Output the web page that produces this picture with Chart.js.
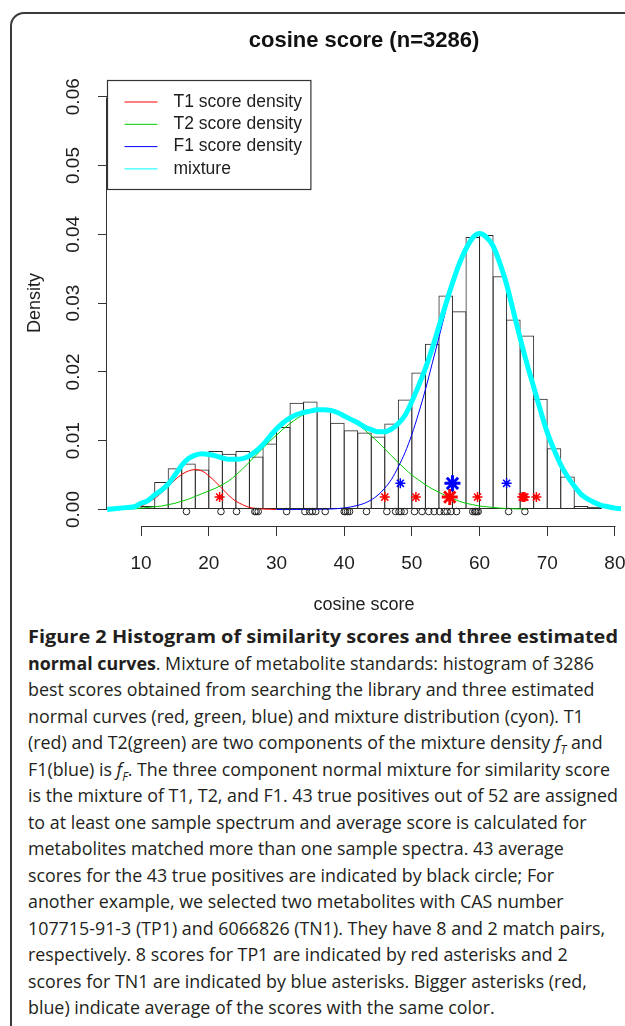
<!DOCTYPE html>
<html>
<head>
<meta charset="utf-8">
<script src="https://cdn.jsdelivr.net/npm/chart.js@4.4.1/dist/chart.umd.min.js"></script>
<style>
  html, body { margin: 0; padding: 0; background: #fff; }
  body { width: 625px; height: 1026px; position: relative; overflow: hidden; }
  #frame { position: absolute; left: 10px; top: 12px; width: 700px; height: 1100px;
           border: 2px solid #3a3a3a; border-radius: 14px; box-sizing: border-box; }
  #plot { position: absolute; left: 0; top: 0; }
  #caption { position: absolute; left: 28px; top: 623px; font-family: 'Open Sans', sans-serif;
             font-size: 18px; line-height: 26.5px; color: #231f20; }
  #caption div { white-space: nowrap; width: max-content; transform-origin: 0 50%; }
  #caption sub { font-size: 0.65em; line-height: 0; }
</style>
</head>
<body>
<div id="frame"></div>
<canvas id="plot" width="632" height="620"></canvas>
<div id="caption">
  <div class="head"><b>Figure 2 Histogram of similarity scores and three estimated</b></div>
  <div><b>normal curves</b>. Mixture of metabolite standards: histogram of 3286</div>
  <div>best scores obtained from searching the library and three estimated</div>
  <div>normal curves (red, green, blue) and mixture distribution (cyon). T1</div>
  <div>(red) and T2(green) are two components of the mixture density <i>f<sub>T</sub></i> and</div>
  <div>F1(blue) is <i>f<sub>F</sub></i>. The three component normal mixture for similarity score</div>
  <div>is the mixture of T1, T2, and F1. 43 true positives out of 52 are assigned</div>
  <div>to at least one sample spectrum and average score is calculated for</div>
  <div>metabolites matched more than one sample spectra. 43 average</div>
  <div>scores for the 43 true positives are indicated by black circle; For</div>
  <div>another example, we selected two metabolites with CAS number</div>
  <div>107715-91-3 (TP1) and 6066826 (TN1). They have 8 and 2 match pairs,</div>
  <div>respectively. 8 scores for TP1 are indicated by red asterisks and 2</div>
  <div>scores for TN1 are indicated by blue asterisks. Bigger asterisks (red,</div>
  <div>blue) indicate average of the scores with the same color.</div>
</div>
<script>
// ---- histogram (bins of width 2) ----
const binWidth = 2;
const binStarts = [8, 10, 12, 14, 16, 18, 20, 22, 24, 26, 28, 30, 32, 34, 36, 38, 40, 42,
                   44, 46, 48, 50, 52, 54, 56, 58, 60, 62, 64, 66, 68, 70, 72, 74, 76];
const binDensity = [0.0003, 0.0005, 0.0040, 0.0060, 0.0067, 0.0058, 0.0085, 0.0081, 0.0085,
                    0.0077, 0.0096, 0.0120, 0.0155, 0.0157, 0.0145, 0.0126, 0.0115, 0.0112,
                    0.0106, 0.0125, 0.0160, 0.0199, 0.0241, 0.0311, 0.0288, 0.0396, 0.0399,
                    0.0339, 0.0276, 0.0253, 0.0161, 0.0089, 0.0048, 0.0005, 0.0004];

// ---- fitted densities, read at every score unit (null = not drawn) ----
const scoreGrid = [5, 6, 7, 8, 9, 10, 11, 12, 13, 14, 15, 16, 17, 18, 19, 20, 21, 22, 23, 24,
                   25, 26, 27, 28, 29, 30, 31, 32, 33, 34, 35, 36, 37, 38, 39, 40, 41, 42, 43, 44,
                   45, 46, 47, 48, 49, 50, 51, 52, 53, 54, 55, 56, 57, 58, 59, 60, 61, 62, 63, 64,
                   65, 66, 67, 68, 69, 70, 71, 72, 73, 74, 75, 76, 77, 78, 79, 80, 81, 82];
const t1Density = [null, null, null, 0.0001, 0.0003, 0.0005, 0.0010, 0.0016, 0.0024, 0.0033,
                   0.0043, 0.0051, 0.0056, 0.0058, 0.0056, 0.0049, 0.0040, 0.0030, 0.0020, 0.0012,
                   0.0007, 0.0003, 0.00015, 0.00007, 0.00003, 0, null, null, null, null,
                   null, null, null, null, null, null, null, null, null, null,
                   null, null, null, null, null, null, null, null, null, null,
                   null, null, null, null, null, null, null, null, null, null,
                   null, null, null, null, null, null, null, null, null, null,
                   null, null, null, null, null, null, null, null];
const t2Density = [null, null, null, 0.0001, 0.0001, 0.0002, 0.0003, 0.0004, 0.0005, 0.0007,
                   0.0009, 0.0012, 0.0015, 0.0019, 0.0023, 0.0027, 0.0031, 0.0036, 0.0042, 0.0050,
                   0.0059, 0.0069, 0.0079, 0.0089, 0.0099, 0.0108, 0.0117, 0.0125, 0.0132, 0.0138,
                   0.0142, 0.0145, 0.0146, 0.0145, 0.0142, 0.0137, 0.0131, 0.0124, 0.0116, 0.0107,
                   0.0098, 0.0088, 0.0078, 0.0068, 0.0059, 0.0050, 0.0043, 0.0036, 0.0030, 0.0025,
                   0.0020, 0.0016, 0.0012, 0.0009, 0.0007, 0.0005, 0.0004, 0.0003, 0.0002, 0.00015,
                   0.0001, 0.00007, 0.00005, null, null, null, null, null, null, null,
                   null, null, null, null, null, null, null, null];
const f1Density = [null, null, null, null, null, null, null, null, null, null,
                   null, null, null, null, null, null, null, null, null, null,
                   null, null, null, null, null, 0, 0, 0, 0, 0,
                   0.00001, 0.00002, 0.00004, 0.00007, 0.00013, 0.00022, 0.00037, 0.0006, 0.0009, 0.0014,
                   0.0021, 0.0031, 0.0044, 0.0062, 0.0083, 0.0109, 0.0140, 0.0174, 0.0212, 0.0250,
                   0.0289, 0.0325, 0.0356, 0.0380, 0.0395, 0.0400, 0.0395, 0.0380, 0.0356, 0.0325,
                   0.0289, 0.0250, 0.0212, 0.0176, 0.0142, 0.0111, 0.0085, 0.0064, 0.0046, 0.0033,
                   0.0022, 0.0015, 0.0010, 0.0006, 0.0004, 0.0002, 0.0001, 0.00005];
const mixDensity = [0, 0.0001, 0.0002, 0.0003, 0.0004, 0.0009, 0.0013, 0.0021, 0.0028, 0.0037,
                    0.0050, 0.0064, 0.0074, 0.0079, 0.0081, 0.0080, 0.0078, 0.0075, 0.0073, 0.0073,
                    0.0074, 0.0078, 0.0085, 0.0094, 0.0106, 0.0117, 0.0126, 0.0133, 0.0138, 0.0141,
                    0.0143, 0.0145, 0.0145, 0.0144, 0.0141, 0.0136, 0.0131, 0.0126, 0.0120, 0.0116,
                    0.0113, 0.0113, 0.0117, 0.0125, 0.0137, 0.0157, 0.0180, 0.0205, 0.0234, 0.0266,
                    0.0298, 0.0329, 0.0357, 0.0379, 0.0395, 0.0401, 0.0396, 0.0383, 0.0358, 0.0327,
                    0.0288, 0.0249, 0.0212, 0.0178, 0.0144, 0.0112, 0.0087, 0.0065, 0.0048, 0.0034,
                    0.0022, 0.0015, 0.0010, 0.0006, 0.0004, 0.0002, 0.0001, null];

// ---- marks along the bottom ----
const tpAverageScores = [16.7, 21.8, 24.1, 26.8, 27.0, 27.3, 31.5, 34.2, 34.9, 35.3, 35.8, 37.2,
                         40.0, 40.2, 40.5, 40.8, 43.3, 46.3, 47.6, 48.1, 48.4, 48.9, 50.4, 51.5,
                         52.5, 53.3, 54.1, 54.8, 55.2, 55.8, 56.6, 59.0, 59.3, 59.4, 59.6, 59.8,
                         64.3, 66.7];
const circleLevel = -0.0003;
const tp1Scores = [21.6, 46.0, 50.6, 59.7, 66.3, 66.5, 66.7, 68.4];
const tp1Mean = [55.6];
const tp1Level = 0.0018;
const tn1Scores = [48.3, 64.0];
const tn1Mean = [56.0];
const tn1Level = 0.0038;

// ---- axes and legend ----
const xTicks = [10, 20, 30, 40, 50, 60, 70, 80];
const yTicks = [0, 0.01, 0.02, 0.03, 0.04, 0.05, 0.06];
const legendLabels = ['T1 score density', 'T2 score density', 'F1 score density', 'mixture'];
const legendColors = ['#ff0000', '#00cc00', '#0000ff', '#00ffff'];

const FONT = '"Liberation Sans", Arial, Helvetica, sans-serif';
const TICK_FONT = '"Liberation Sans Narrow", "Arial Narrow", "Liberation Sans", sans-serif';
const INK = '#1e1e1e';

function curve(values) {
    return scoreGrid.map((x, i) => ({ x: x, y: values[i] }));
}
function level(xs, y) {
    return xs.map(x => ({ x: x, y: y }));
}

// R style axes: lines only from first to last tick
const rAxes = {
    id: 'rAxes',
    beforeDatasetsDraw(chart) {
        const { ctx, chartArea: a, scales: { x, y } } = chart;
        ctx.save();
        ctx.strokeStyle = '#333';
        ctx.lineWidth = 1;
        ctx.beginPath();
        ctx.moveTo(Math.round(x.getPixelForValue(xTicks[0])) + 0.5, Math.round(a.bottom) + 0.5);
        ctx.lineTo(Math.round(x.getPixelForValue(xTicks[xTicks.length - 1])) + 0.5, Math.round(a.bottom) + 0.5);
        ctx.moveTo(Math.round(a.left) - 0.5, Math.round(y.getPixelForValue(yTicks[0])) + 0.5);
        ctx.lineTo(Math.round(a.left) - 0.5, Math.round(y.getPixelForValue(yTicks[yTicks.length - 1])) + 0.5);
        ctx.stroke();
        ctx.restore();
    }
};

// boxed legend in the top left corner of the plot region
const rLegend = {
    id: 'rLegend',
    afterDatasetsDraw(chart) {
        const { ctx, chartArea: a } = chart;
        ctx.save();
        ctx.font = '17.5px ' + FONT;
        const textW = Math.max(...legendLabels.map(t => ctx.measureText(t).width));
        const left = Math.round(a.left) + 0.5, top = Math.round(a.top) + 0.5;
        ctx.strokeStyle = '#333';
        ctx.lineWidth = 1.2;
        ctx.strokeRect(left, top, 66 + textW + 9, 109);
        ctx.textBaseline = 'middle';
        legendLabels.forEach((t, i) => {
            const yy = top + 21.5 + i * 22.3;
            ctx.strokeStyle = legendColors[i];
            ctx.lineWidth = 1;
            ctx.beginPath();
            ctx.moveTo(left + 17, yy);
            ctx.lineTo(left + 50, yy);
            ctx.stroke();
            ctx.fillStyle = INK;
            ctx.fillText(t, left + 66, yy);
        });
        ctx.restore();
    }
};

new Chart(document.getElementById('plot'), {
    type: 'scatter',
    data: {
        datasets: [
            {
                type: 'scatter', data: level(tn1Mean, tn1Level), order: 1,
                pointStyle: 'star', pointRadius: 8, borderColor: '#0000ff', borderWidth: 3
            },
            {
                type: 'scatter', data: level(tp1Mean, tp1Level), order: 1,
                pointStyle: 'star', pointRadius: 8, borderColor: '#ff0000', borderWidth: 3
            },
            {
                type: 'scatter', data: level(tn1Scores, tn1Level), order: 2,
                pointStyle: 'star', pointRadius: 5, borderColor: '#0000ff', borderWidth: 1.5
            },
            {
                type: 'scatter', data: level(tp1Scores, tp1Level), order: 2,
                pointStyle: 'star', pointRadius: 5, borderColor: '#ff0000', borderWidth: 1.5
            },
            {
                type: 'scatter', data: level(tpAverageScores, circleLevel), order: 3,
                pointStyle: 'circle', pointRadius: 3.3, borderColor: '#222',
                backgroundColor: 'rgba(0,0,0,0)', borderWidth: 1
            },
            {
                type: 'line', label: legendLabels[3], data: curve(mixDensity), order: 5,
                borderColor: legendColors[3], borderWidth: 5, pointRadius: 0, fill: false,
                cubicInterpolationMode: 'monotone', spanGaps: false
            },
            {
                type: 'line', label: legendLabels[2], data: curve(f1Density), order: 6,
                borderColor: legendColors[2], borderWidth: 1, pointRadius: 0, fill: false,
                cubicInterpolationMode: 'monotone', spanGaps: false
            },
            {
                type: 'line', label: legendLabels[1], data: curve(t2Density), order: 7,
                borderColor: legendColors[1], borderWidth: 1, pointRadius: 0, fill: false,
                cubicInterpolationMode: 'monotone', spanGaps: false
            },
            {
                type: 'line', label: legendLabels[0], data: curve(t1Density), order: 8,
                borderColor: legendColors[0], borderWidth: 1, pointRadius: 0, fill: false,
                cubicInterpolationMode: 'monotone', spanGaps: false
            },
            {
                type: 'bar', data: binStarts.map((s, i) => ({ x: s + binWidth / 2, y: binDensity[i] })),
                order: 10, backgroundColor: 'rgba(0,0,0,0)', borderColor: '#2a2a2a', borderWidth: 1,
                borderSkipped: false, inflateAmount: 0, barPercentage: 1.074, categoryPercentage: 1
            }
        ]
    },
    options: {
        responsive: false,
        animation: false,
        devicePixelRatio: 1,
        events: [],
        layout: { padding: { left: 0, right: 0, top: 0, bottom: 0 } },
        plugins: {
            legend: { display: false },
            tooltip: { enabled: false },
            title: {
                display: true, fullSize: false, text: 'cosine score (n=3286)', color: '#111',
                font: { family: FONT, size: 22, weight: 'bold' },
                padding: { top: 27.5, bottom: 26.3 }
            }
        },
        scales: {
            x: {
                type: 'linear', min: 4.96, max: 80.9, offset: false,
                afterBuildTicks: s => { s.ticks = xTicks.map(v => ({ value: v })); },
                afterFit: s => { s.height = 94; s.paddingLeft = 0; s.paddingRight = 0; },
                border: { display: false },
                grid: { display: true, offset: false, drawOnChartArea: false, drawTicks: true,
                        tickLength: 10, color: '#333', lineWidth: 1 },
                ticks: { padding: 16, color: INK, font: { family: TICK_FONT, size: 19 },
                         maxRotation: 0, autoSkip: false, callback: v => String(v) },
                title: { display: true, text: 'cosine score', color: INK,
                         font: { family: FONT, size: 18 }, padding: { top: 0, bottom: 4 } }
            },
            y: {
                type: 'linear', min: -0.0024, max: 0.0624,
                afterBuildTicks: s => { s.ticks = yTicks.map(v => ({ value: v })); },
                afterFit: s => { s.width = 107; },
                border: { display: false },
                grid: { display: true, drawOnChartArea: false, drawTicks: true,
                        tickLength: 9, color: '#333', lineWidth: 1 },
                ticks: { padding: 6, color: INK, font: { family: TICK_FONT, size: 19 },
                         minRotation: 90, maxRotation: 90, crossAlign: 'center',
                         callback: v => v.toFixed(2) },
                title: { display: true, text: 'Density', color: INK,
                         font: { family: FONT, size: 18 }, padding: { top: 24, bottom: 0 } }
            }
        }
    },
    plugins: [rAxes, rLegend]
});

// squeeze caption lines to the column width of the printed figure
function fitCaption() {
    const lines = Array.from(document.querySelectorAll('#caption div'));
    const body = lines.filter(l => !l.classList.contains('head'));
    const widest = Math.max(...body.map(l => l.getBoundingClientRect().width));
    const k = 590 / widest;
    body.forEach(l => { l.style.transform = 'scaleX(' + k + ')'; });
    lines.filter(l => l.classList.contains('head')).forEach(l => {
        l.style.transform = 'scaleX(' + (590 / l.getBoundingClientRect().width) + ')';
    });
}
fitCaption();
</script>
</body>
</html>
